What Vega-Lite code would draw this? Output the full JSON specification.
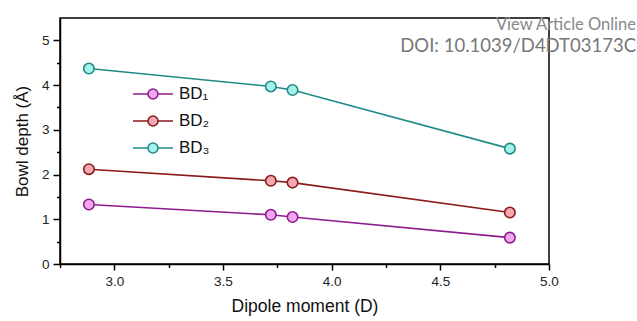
{
  "$schema": "https://vega.github.io/schema/vega-lite/v6.json",
  "width": 489,
  "height": 246,
  "autosize": {"type": "none"},
  "padding": {"left": 60, "top": 18, "right": 88, "bottom": 57},
  "background": "white",
  "config": {
    "view": {"stroke": "black", "strokeWidth": 1.5},
    "font": "Liberation Sans"
  },
  "title": {
    "text": "View Article Online",
    "subtitle": "DOI: 10.1039/D4DT03173C",
    "anchor": "end",
    "orient": "top",
    "frame": "group",
    "dx": 87,
    "offset": -37,
    "font": "Lato",
    "fontSize": 16.5,
    "fontWeight": "normal",
    "color": "#888888",
    "subtitleFont": "Lato",
    "subtitleFontSize": 18.5,
    "subtitleColor": "#777777",
    "subtitlePadding": 3
  },
  "data": {
    "values": [
      {"series": "BD₁", "dipole": 2.883, "depth": 1.33},
      {"series": "BD₁", "dipole": 3.72, "depth": 1.1},
      {"series": "BD₁", "dipole": 3.82, "depth": 1.05},
      {"series": "BD₁", "dipole": 4.82, "depth": 0.59},
      {"series": "BD₂", "dipole": 2.883, "depth": 2.12},
      {"series": "BD₂", "dipole": 3.72, "depth": 1.86},
      {"series": "BD₂", "dipole": 3.82, "depth": 1.82},
      {"series": "BD₂", "dipole": 4.82, "depth": 1.15},
      {"series": "BD₃", "dipole": 2.883, "depth": 4.37},
      {"series": "BD₃", "dipole": 3.72, "depth": 3.97},
      {"series": "BD₃", "dipole": 3.82, "depth": 3.89},
      {"series": "BD₃", "dipole": 4.82, "depth": 2.58}
    ]
  },
  "encoding": {
    "x": {
      "field": "dipole",
      "type": "quantitative",
      "scale": {"domain": [2.75, 5.0], "nice": false, "zero": false},
      "axis": {
        "title": "Dipole moment (D)",
        "values": [2.75, 3, 3.25, 3.5, 3.75, 4, 4.25, 4.5, 4.75, 5],
        "labelExpr": "(datum.value * 2) % 1 == 0 ? format(datum.value, '.1f') : ''",
        "tickSize": {"condition": {"test": "(datum.value * 2) % 1 != 0", "value": 3.5}, "value": 6},
        "labelFlush": false,
        "grid": false,
        "domainColor": "black",
        "domainWidth": 1.5,
        "tickColor": "black",
        "tickWidth": 1.5,
        "labelFontSize": 13.5,
        "labelColor": "#222222",
        "labelPadding": 4,
        "labelFont": "Liberation Sans",
        "titleFont": "Liberation Sans",
        "titleFontSize": 17.5,
        "titleFontWeight": "normal",
        "titleColor": "#111111",
        "titlePadding": 10
      }
    },
    "y": {
      "field": "depth",
      "type": "quantitative",
      "scale": {"domain": [0, 5.5], "nice": false},
      "axis": {
        "title": "Bowl depth (Å)",
        "values": [0, 0.5, 1, 1.5, 2, 2.5, 3, 3.5, 4, 4.5, 5],
        "labelExpr": "datum.value % 1 == 0 ? format(datum.value, 'd') : ''",
        "tickSize": {"condition": {"test": "datum.value % 1 != 0", "value": 3.5}, "value": 7},
        "labelFlush": false,
        "grid": false,
        "domainColor": "black",
        "domainWidth": 1.5,
        "tickColor": "black",
        "tickWidth": 1.5,
        "labelFontSize": 13.5,
        "labelColor": "#222222",
        "labelPadding": 4,
        "labelFont": "Liberation Sans",
        "titleFont": "Liberation Sans",
        "titleFontSize": 17,
        "titleFontWeight": "normal",
        "titleColor": "#111111",
        "titlePadding": 10
      }
    }
  },
  "layer": [
    {
      "mark": {"type": "line", "strokeWidth": 1.6},
      "encoding": {
        "stroke": {
          "field": "series",
          "type": "nominal",
          "scale": {"domain": ["BD₁", "BD₂", "BD₃"], "range": ["#8E1C8E", "#8B1A1A", "#1F8A87"]},
          "legend": {
            "orient": "none",
            "legendX": 82,
            "legendY": 65,
            "title": null,
            "symbolType": "M-2,0H-0.5M0.5,0H2M0.5,0A0.5,0.5,0,1,1,-0.5,0A0.5,0.5,0,1,1,0.5,0Z",
            "symbolSize": 400,
            "symbolStrokeWidth": 1.6,
            "symbolOpacity": 1,
            "labelFont": "Liberation Sans",
            "labelFontSize": 17,
            "labelColor": "#111111",
            "labelOffset": 15,
            "rowPadding": 7,
            "padding": 0
          }
        }
      }
    },
    {
      "mark": {"type": "point", "shape": "circle", "size": 110, "strokeWidth": 1.6, "opacity": 1},
      "encoding": {
        "stroke": {"field": "series", "type": "nominal"},
        "fill": {
          "field": "series",
          "type": "nominal",
          "scale": {"domain": ["BD₁", "BD₂", "BD₃"], "range": ["#F2A6EE", "#F4A8B6", "#A6F0EA"]}
        }
      }
    }
  ]
}
